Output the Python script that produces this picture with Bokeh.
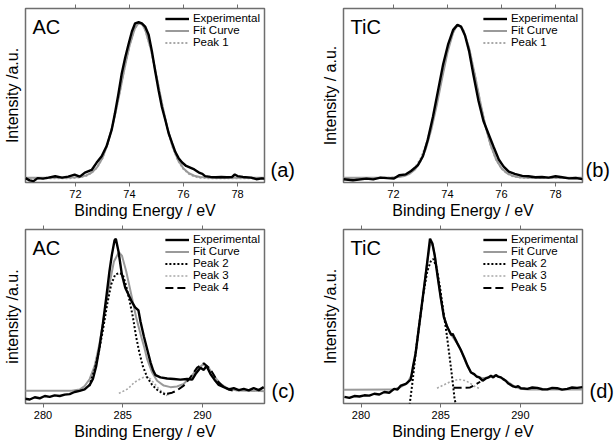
from bokeh.plotting import figure
from bokeh.layouts import column, row
from bokeh.models import (Range1d, LinearAxis, FixedTicker, Label, Legend, LegendItem,
                          CustomLabelingPolicy)
from bokeh.embed import file_html
from bokeh.resources import INLINE

FONT = "Liberation Sans"

# ---------------- data ----------------
# (a) AC
a_exp_x = [70.15, 70.3, 70.45, 70.6, 70.8, 71.0, 71.25, 71.5, 71.73, 71.97, 72.16, 72.35, 72.6, 72.78,
           72.97, 73.15, 73.34, 73.46, 73.59, 73.71, 73.84, 73.96, 74.09, 74.21, 74.34, 74.46, 74.58,
           74.71, 74.83, 74.95, 75.08, 75.2, 75.33, 75.45, 75.58, 75.7, 75.82, 75.95, 76.1, 76.25, 76.4,
           76.6, 76.7, 76.8, 77.0, 77.2, 77.4, 77.6, 77.8, 77.9, 78.0, 78.2, 78.5, 78.7, 78.9, 79.0]
a_exp_y = [0.025, 0.012, 0.008, 0.025, 0.022, 0.028, 0.036, 0.028, 0.034, 0.045, 0.034, 0.057, 0.072, 0.113,
           0.151, 0.208, 0.302, 0.396, 0.509, 0.623, 0.717, 0.792, 0.868, 0.915, 0.921, 0.915, 0.896,
           0.849, 0.755, 0.642, 0.528, 0.434, 0.358, 0.283, 0.226, 0.175, 0.140, 0.115, 0.095, 0.085, 0.075,
           0.055, 0.050, 0.037, 0.032, 0.030, 0.032, 0.030, 0.032, 0.046, 0.037, 0.032, 0.028, 0.019, 0.024, 0.022]
a_fit_x = [70.15, 71.0, 71.8, 72.0, 72.2, 72.4, 72.6, 72.8, 73.0, 73.2, 73.4, 73.6, 73.8, 74.0, 74.2, 74.3,
           74.4, 74.5, 74.6, 74.8, 75.0, 75.2, 75.4, 75.6, 75.8, 76.0, 76.2, 76.4, 76.6, 76.8, 77.0, 79.0]
a_fit_y = [0.028, 0.028, 0.029, 0.030, 0.033, 0.041, 0.057, 0.087, 0.141, 0.225, 0.342, 0.487, 0.644, 0.786,
           0.885, 0.909, 0.915, 0.902, 0.870, 0.761, 0.613, 0.457, 0.316, 0.205, 0.128, 0.080, 0.053, 0.039,
           0.032, 0.030, 0.028, 0.028]
a_p1_y = [0.024, 0.024, 0.025, 0.027, 0.030, 0.038, 0.055, 0.086, 0.140, 0.225, 0.343, 0.489, 0.646, 0.788,
          0.887, 0.911, 0.917, 0.904, 0.871, 0.761, 0.612, 0.455, 0.313, 0.202, 0.125, 0.077, 0.050, 0.035,
          0.028, 0.026, 0.024, 0.024]

# (b) TiC
b_exp_x = [70.15, 70.5, 71.0, 71.25, 71.52, 71.77, 72.02, 72.21, 72.46, 72.65, 72.90, 73.09, 73.27, 73.46,
           73.65, 73.84, 74.02, 74.21, 74.37, 74.50, 74.65, 74.80, 74.96, 75.15, 75.33, 75.52, 75.71, 75.90,
           76.08, 76.27, 76.49, 76.77, 77.0, 77.25, 77.5, 77.75, 78.0, 78.25, 78.5, 78.75, 79.0]
b_exp_y = [0.019, 0.013, 0.022, 0.018, 0.028, 0.025, 0.023, 0.042, 0.047, 0.066, 0.098, 0.151, 0.245, 0.377,
           0.528, 0.679, 0.792, 0.877, 0.906, 0.896, 0.845, 0.755, 0.619, 0.468, 0.355, 0.279, 0.204, 0.132,
           0.091, 0.062, 0.050, 0.038, 0.036, 0.030, 0.032, 0.028, 0.036, 0.030, 0.024, 0.026, 0.019]
b_fit_x = [70.15, 71.0, 71.8, 72.0, 72.2, 72.4, 72.6, 72.8, 73.0, 73.2, 73.4, 73.6, 73.8, 74.0, 74.2, 74.3,
           74.4, 74.5, 74.6, 74.8, 75.0, 75.2, 75.4, 75.6, 75.8, 76.0, 76.2, 76.4, 76.6, 76.8, 77.0, 79.0]
b_fit_y = [0.028, 0.028, 0.028, 0.029, 0.032, 0.037, 0.050, 0.075, 0.121, 0.194, 0.303, 0.442, 0.598, 0.747,
           0.857, 0.889, 0.903, 0.897, 0.872, 0.773, 0.630, 0.473, 0.328, 0.214, 0.133, 0.082, 0.054, 0.039,
           0.032, 0.029, 0.028, 0.028]
b_p1_y = [0.026, 0.026, 0.027, 0.029, 0.034, 0.042, 0.058, 0.086, 0.135, 0.212, 0.322, 0.462, 0.615, 0.757,
          0.862, 0.891, 0.903, 0.896, 0.870, 0.770, 0.626, 0.470, 0.326, 0.212, 0.131, 0.080, 0.052, 0.037,
          0.030, 0.027, 0.026, 0.026]

# (c) AC, C 1s
c_exp_x = [278.85, 279.17, 279.48, 279.79, 280.11, 280.42, 280.73, 281.05, 281.36, 281.67, 281.98, 282.30,
           282.61, 282.93, 283.13, 283.34, 283.55, 283.76, 283.97, 284.17, 284.32, 284.49, 284.57, 284.74,
           284.95, 285.16, 285.37, 285.57, 285.78, 285.99, 286.12, 286.33, 286.54, 286.75, 286.92, 287.06,
           287.37, 287.79, 288.21, 288.62, 289.04, 289.36, 289.57, 289.88, 290.09, 290.26, 290.51, 290.76,
           291.03, 291.35, 291.66, 291.97, 292.29, 292.60, 292.91, 293.22, 293.54, 293.85]
c_exp_y = [0.028, 0.023, 0.036, 0.030, 0.043, 0.038, 0.047, 0.043, 0.051, 0.054, 0.066, 0.073,
           0.081, 0.107, 0.141, 0.216, 0.328, 0.460, 0.610, 0.760, 0.854, 0.938, 0.947, 0.872,
           0.741, 0.665, 0.625, 0.585, 0.553, 0.535, 0.470, 0.385, 0.310, 0.235, 0.188, 0.163,
           0.150, 0.144, 0.141, 0.137, 0.141, 0.137, 0.169, 0.206, 0.193, 0.216, 0.169, 0.137,
           0.107, 0.094, 0.081, 0.088, 0.077, 0.084, 0.075, 0.088, 0.077, 0.094]
c_fit_x = [278.85, 281.8, 282.3, 282.61, 282.93, 283.24, 283.55, 283.86, 284.17, 284.45, 284.76, 284.95,
           285.22, 285.53, 285.84, 286.16, 286.36, 286.54, 286.85, 287.16, 287.58, 288.0, 288.41, 288.83,
           289.25, 289.67, 290.05, 290.40, 290.72, 291.14, 291.55, 292.18, 293.95]
c_fit_y = [0.073, 0.073, 0.080, 0.100, 0.141, 0.216, 0.347, 0.516, 0.685, 0.816, 0.869, 0.850,
           0.760, 0.629, 0.497, 0.385, 0.320, 0.253, 0.178, 0.131, 0.103, 0.094, 0.098, 0.113,
           0.150, 0.197, 0.225, 0.206, 0.159, 0.113, 0.088, 0.075, 0.071]
c_p2_x = [282.9, 283.24, 283.49, 283.76, 284.03, 284.28, 284.53, 284.80, 285.01, 285.22, 285.43, 285.64,
          285.84, 286.05, 286.26, 286.54, 286.85, 287.16, 287.48, 287.79]
c_p2_y = [0.100, 0.197, 0.291, 0.422, 0.572, 0.685, 0.741, 0.750, 0.741, 0.675, 0.591, 0.497,
          0.385, 0.291, 0.216, 0.150, 0.107, 0.079, 0.060, 0.047]
c_p3_x = [284.76, 285.32, 285.74, 286.16, 286.43, 286.75, 287.06, 287.37, 287.69, 287.9]
c_p3_y = [0.058, 0.084, 0.122, 0.144, 0.155, 0.141, 0.107, 0.075, 0.056, 0.050]
c_p4_x = [287.79, 288.1, 288.41, 288.83, 289.25, 289.67, 290.09, 290.51, 290.93, 291.35, 291.76, 291.9]
c_p4_y = [0.056, 0.062, 0.075, 0.103, 0.150, 0.206, 0.231, 0.197, 0.131, 0.094, 0.077, 0.075]

# (d) TiC, C 1s
d_exp_x = [278.96, 279.27, 279.58, 279.9, 280.21, 280.52, 280.83, 281.15, 281.46, 281.77, 282.08, 282.29,
           282.50, 282.81, 283.12, 283.27, 283.43, 283.64, 283.85, 284.06, 284.21, 284.33, 284.48, 284.62,
           284.79, 285.0, 285.2, 285.41, 285.66, 285.75, 285.83, 286.04, 286.25, 286.48, 286.69, 286.9,
           287.1, 287.25, 287.42, 287.63, 287.83, 288.0, 288.15, 288.3, 288.46, 288.6, 288.77, 288.92,
           289.08, 289.24, 289.4, 289.55, 289.71, 289.86, 290.02, 290.23, 290.44, 290.75, 291.06, 291.38,
           291.69, 292.0, 292.31, 292.62, 292.94, 293.25, 293.56, 293.9]
d_exp_y = [0.038, 0.032, 0.043, 0.040, 0.047, 0.045, 0.056, 0.052, 0.066, 0.062, 0.084, 0.080,
           0.103, 0.113, 0.137, 0.216, 0.291, 0.441, 0.591, 0.741, 0.854, 0.947, 0.919, 0.854,
           0.741, 0.610, 0.497, 0.441, 0.394, 0.400, 0.385, 0.347, 0.310, 0.263, 0.216, 0.178,
           0.169, 0.155, 0.150, 0.131, 0.144, 0.150, 0.159, 0.150, 0.163, 0.155, 0.150, 0.140,
           0.131, 0.115, 0.107, 0.098, 0.094, 0.100, 0.088, 0.086, 0.084, 0.092, 0.090, 0.082,
           0.081, 0.090, 0.088, 0.080, 0.084, 0.092, 0.090, 0.094]
d_fit_x = [278.9, 282.0, 282.5, 282.9, 283.2, 283.4, 283.6, 283.85, 284.05, 284.2, 284.35, 284.5, 284.65,
           284.8, 285.0, 285.2, 285.4, 285.7, 286.0, 286.3, 286.6, 286.9, 287.2, 287.6, 288.0, 288.4,
           288.8, 289.2, 289.6, 290.0, 290.5, 293.9]
d_fit_y = [0.079, 0.080, 0.095, 0.115, 0.170, 0.270, 0.420, 0.590, 0.740, 0.840, 0.920, 0.910, 0.840,
           0.740, 0.610, 0.500, 0.440, 0.390, 0.350, 0.300, 0.230, 0.180, 0.160, 0.145, 0.150, 0.160,
           0.150, 0.125, 0.100, 0.085, 0.080, 0.080]
d_p2_x = [283.0, 283.06, 283.23, 283.43, 283.64, 283.91, 284.16, 284.37, 284.54, 284.75, 284.96, 285.16,
          285.37, 285.58, 285.73, 285.87, 285.94, 285.98]
d_p2_y = [-0.03, 0.0, 0.122, 0.291, 0.441, 0.629, 0.760, 0.816, 0.831, 0.779, 0.666, 0.535,
          0.403, 0.253, 0.141, 0.028, 0.0, -0.03]
d_p3_x = [284.77, 285.2, 285.62, 286.12, 286.58, 286.9, 287.21, 287.48]
d_p3_y = [0.088, 0.107, 0.126, 0.139, 0.131, 0.113, 0.094, 0.085]
d_p5_x = [285.81, 286.3, 286.85, 287.1, 287.48]
d_p5_y = [0.090, 0.090, 0.092, 0.105, 0.125]

XR_TOP = (70.15, 79.0)
XR_BOT = (278.9, 293.9)
TICKS_TOP = [72, 74, 76, 78]
TICKS_BOT = [280, 285, 290]
TAG_Y = 0.07

FH = 174
FW = 239
FRAME_COL = "#6e6e6e"


def panel(xr, ticks, ylabel, left_b, right_b, tag, tag_standoff):
    p = figure(frame_width=FW, frame_height=FH, x_range=Range1d(*xr), y_range=Range1d(0, 1),
               output_backend="svg", toolbar_location=None,
               min_border_left=left_b, min_border_right=right_b, min_border_top=5, min_border_bottom=0)
    p.xgrid.visible = False
    p.ygrid.visible = False
    p.outline_line_color = FRAME_COL
    p.outline_line_width = 1.5
    p.background_fill_color = "white"
    p.border_fill_color = "white"

    xa = p.xaxis[0]
    xa.ticker = FixedTicker(ticks=ticks)
    xa.axis_line_color = None
    xa.major_tick_out = 4
    xa.major_tick_in = 0
    xa.major_tick_line_color = FRAME_COL
    xa.minor_tick_line_color = None
    xa.major_label_text_font = FONT
    xa.major_label_text_font_size = "11px"
    xa.major_label_text_color = "black"
    xa.major_label_standoff = 3
    xa.axis_label = "Binding Energy / eV"
    xa.axis_label_text_font = FONT
    xa.axis_label_text_font_size = "16px"
    xa.axis_label_text_font_style = "normal"
    xa.axis_label_text_color = "black"
    xa.axis_label_standoff = 1

    ya = p.yaxis[0]
    ya.ticker = FixedTicker(ticks=[])
    ya.axis_line_color = None
    ya.major_tick_line_color = None
    ya.major_tick_out = 0
    ya.major_tick_in = 0
    ya.minor_tick_line_color = None
    ya.axis_label = ylabel
    ya.axis_label_text_font = FONT
    ya.axis_label_text_font_size = "16px"
    ya.axis_label_text_font_style = "normal"
    ya.axis_label_text_color = "black"
    ya.axis_label_standoff = 5

    # mirrored tick marks on the top edge, no labels
    top = LinearAxis(ticker=FixedTicker(ticks=ticks), axis_line_color=None, major_tick_out=4,
                     major_tick_in=0, major_tick_line_color=FRAME_COL, minor_tick_line_color=None,
                     major_label_text_font_size="2px", major_label_standoff=0,
                     major_label_policy=CustomLabelingPolicy(code="return []"))
    p.add_layout(top, "above")

    # panel tag "(a)" etc. to the right of the frame
    right = LinearAxis(ticker=FixedTicker(ticks=[TAG_Y]), major_label_overrides={TAG_Y: tag},
                       axis_line_color=None, major_tick_line_color=None, minor_tick_line_color=None,
                       major_tick_out=0, major_tick_in=0,
                       major_label_text_font=FONT, major_label_text_font_size="20px",
                       major_label_text_color="black", major_label_standoff=tag_standoff)
    p.add_layout(right, "right")
    return p


def legend(p, items):
    lg = Legend(items=[LegendItem(label=t, renderers=[r]) for t, r in items],
                location="top_right", border_line_color=None, background_fill_alpha=0,
                label_text_font=FONT, label_text_font_size="11.5px", label_text_color="black",
                glyph_width=24, glyph_height=11, label_height=11, spacing=0, padding=4,
                margin=4, label_standoff=4)
    p.add_layout(lg)


def name_label(p, name):
    p.add_layout(Label(x=7, y=FH - 7, x_units="screen", y_units="screen", text=name,
                       text_font=FONT, text_font_size="20px", text_baseline="top",
                       text_color="black"))


EXP = dict(line_color="black", line_width=2.4)
FIT = dict(line_color="#9a9a9a", line_width=2)

# panel a
pa = panel(XR_TOP, TICKS_TOP, "Intensity /a.u.", 24, 45, "(a)", 6)
r1 = pa.line(a_fit_x, a_p1_y, line_color="#a8a8a8", line_width=2, line_dash="2 2")
r2 = pa.line(a_fit_x, a_fit_y, **FIT)
r3 = pa.line(a_exp_x, a_exp_y, **EXP)
legend(pa, [("Experimental", r3), ("Fit Curve", r2), ("Peak 1", r1)])
name_label(pa, "AC")

# panel b
pb = panel(XR_TOP, TICKS_TOP, "Intensity / a.u.", 34, 35, "(b)", 3)
r1 = pb.line(b_fit_x, b_p1_y, line_color="#a8a8a8", line_width=2, line_dash="2 2")
r2 = pb.line(b_fit_x, b_fit_y, **FIT)
r3 = pb.line(b_exp_x, b_exp_y, **EXP)
legend(pb, [("Experimental", r3), ("Fit Curve", r2), ("Peak 1", r1)])
name_label(pb, "TiC")

# panel c
pc = panel(XR_BOT, TICKS_BOT, "intensity /a.u.", 24, 45, "(c)", 7)
rf = pc.line(c_fit_x, c_fit_y, **FIT)
rp3 = pc.line(c_p3_x, c_p3_y, line_color="#a8a8a8", line_width=1.6, line_dash="2 2")
rp4 = pc.line(c_p4_x, c_p4_y, line_color="black", line_width=2, line_dash="8 4")
rp2 = pc.line(c_p2_x, c_p2_y, line_color="black", line_width=2, line_dash="2 2")
re = pc.line(c_exp_x, c_exp_y, **EXP)
legend(pc, [("Experimental", re), ("Fit Curve", rf), ("Peak 2", rp2), ("Peak 3", rp3), ("Peak 4", rp4)])
name_label(pc, "AC")

# panel d
pd_ = panel(XR_BOT, TICKS_BOT, "Intensity /a.u.", 34, 35, "(d)", 7)
rf = pd_.line(d_fit_x, d_fit_y, **FIT)
rp3 = pd_.line(d_p3_x, d_p3_y, line_color="#a8a8a8", line_width=1.6, line_dash="2 2")
rp5 = pd_.line(d_p5_x, d_p5_y, line_color="black", line_width=2, line_dash="8 4")
rp2 = pd_.line(d_p2_x, d_p2_y, line_color="black", line_width=2, line_dash="2 2")
re = pd_.line(d_exp_x, d_exp_y, **EXP)
legend(pd_, [("Experimental", re), ("Fit Curve", rf), ("Peak 2", rp2), ("Peak 3", rp3), ("Peak 5", rp5)])
name_label(pd_, "TiC")

layout = column(row(pa, pb), row(pc, pd_))

open("out.html", "w").write(file_html(layout, INLINE))
